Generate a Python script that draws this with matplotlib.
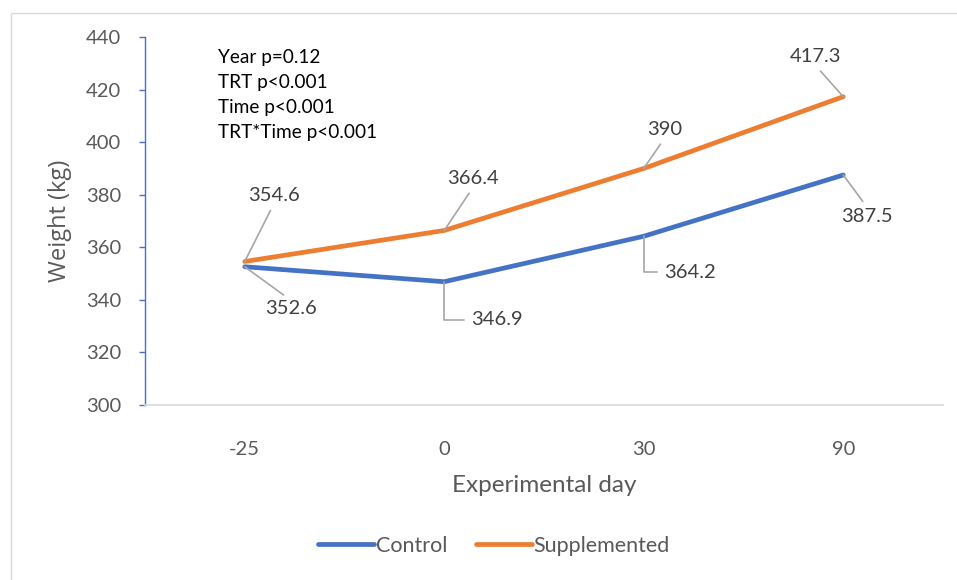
import matplotlib.pyplot as plt
from matplotlib.patches import Rectangle
from matplotlib.lines import Line2D

plt.rcParams['font.family'] = ['Lato', 'DejaVu Sans']

# data
days = ['-25', '0', '30', '90']
control = [352.6, 346.9, 364.2, 387.5]
supplemented = [354.6, 366.4, 390, 417.3]
stats_text = ['Year p=0.12', 'TRT p<0.001', 'Time p<0.001', 'TRT*Time p<0.001']

blue = '#4472C4'
orange = '#ED7D31'
grey_txt = '#595959'
lead = '#A6A6A6'

W, H = 957, 580
fig = plt.figure(figsize=(W / 100, H / 100), dpi=100)
fig.patches.append(Rectangle((11 / W, -0.1), 1.1, 1 - 13 / H + 0.1, transform=fig.transFigure,
                             fill=False, edgecolor='#D9D9D9', linewidth=1))

ax = fig.add_axes([145 / W, (H - 405) / H, (943 - 145) / W, (405 - 37) / H])
x = list(range(len(days)))
ax.plot(x, control, color=blue, linewidth=3.4, solid_capstyle='round', zorder=3)
ax.plot(x, supplemented, color=orange, linewidth=3.4, solid_capstyle='round', zorder=3)

ax.set_xlim(-0.5, 3.5)
ax.set_ylim(300, 440)
ax.set_yticks(range(300, 441, 20))
ax.set_xticks(x)
ax.set_xticklabels(days)

for s in ['top', 'right']:
    ax.spines[s].set_visible(False)
ax.spines['left'].set_color(blue)
ax.spines['left'].set_linewidth(1)
ax.spines['bottom'].set_color('#D9D9D9')
ax.spines['bottom'].set_linewidth(1.2)
ax.tick_params(axis='y', colors=blue, length=4, width=1, labelcolor=grey_txt, labelsize=14.5, pad=13)
ax.tick_params(axis='x', length=0, labelcolor=grey_txt, labelsize=14.5, pad=26)

ax.set_ylabel('Weight (kg)', fontsize=17, color=grey_txt, family=['Open Sans', 'DejaVu Sans'], labelpad=10)
ax.set_xlabel('Experimental day', fontsize=17.5, color=grey_txt, labelpad=12)

# data labels with leader lines: (offset px, relpos, connection style)
def label(xi, v, dx, dy, relpos, conn='arc3'):
    ax.annotate(f'{v:g}', xy=(xi, v), xytext=(dx, dy), textcoords='offset pixels',
                ha='center', va='center', fontsize=14.5, color='#404040',
                arrowprops=dict(arrowstyle='-', color=lead, lw=1.2, relpos=relpos,
                                shrinkA=3, shrinkB=0, connectionstyle=conn))

label(0, supplemented[0], 29, 66, (0.5, 0))
label(1, supplemented[1], 29, 52, (0.5, 0))
label(2, supplemented[2], 21, 39, (0.5, 0))
label(3, supplemented[3], -28, 40, (0.5, 0))
label(0, control[0], 46, -42, (0.5, 1))
label(1, control[1], 53, -38, (0, 0.5), 'angle,angleA=0,angleB=90,rad=0')
label(2, control[2], 46, -36, (0, 0.5), 'angle,angleA=0,angleB=90,rad=0')
label(3, control[3], 24, -41, (0.5, 1))

for i, t in enumerate(stats_text):
    fig.text(218 / W, 1 - (58 + 24.7 * i) / H, t, fontsize=13.7, color='black', va='center', ha='left')

handles = [Line2D([], [], color=blue, lw=3.4, solid_capstyle='round'),
           Line2D([], [], color=orange, lw=3.4, solid_capstyle='round')]
leg = fig.legend(handles, ['Control', 'Supplemented'], loc='center', bbox_to_anchor=(494 / W, 1 - 546 / H),
                 ncol=2, frameon=False, fontsize=15.5, handlelength=2.6, handletextpad=0.1,
                 columnspacing=1.3, labelcolor=grey_txt)

fig.savefig('out.png', dpi=100, facecolor='white')
